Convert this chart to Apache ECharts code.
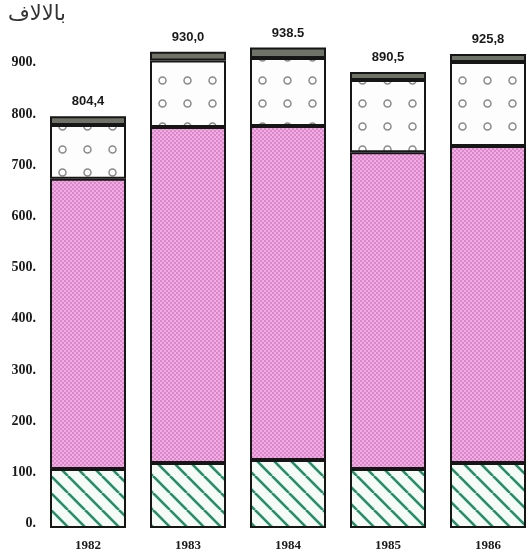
<!DOCTYPE html>
<html>
<head>
<meta charset="utf-8">
<script src="https://cdn.jsdelivr.net/npm/echarts@6/dist/echarts.min.js"></script>
<style>
  html, body { margin: 0; padding: 0; background: #fff; overflow: hidden; }
  #chart { width: 545px; height: 559px; }
</style>
</head>
<body>
<div id="chart"></div>
<script>
// values in thousands
var years = ['1982', '1983', '1984', '1985', '1986']
var hatched = [115, 127, 133, 115, 127]
var pink = [567, 656, 652, 619, 619]
var circles = [105, 130, 133, 141, 164]
var topCap = [17.4, 17.0, 20.5, 15.5, 15.8]
var totalLabels = ['804,4', '930,0', '938.5', '890,5', '925,8']
var yTicks = [0, 100, 200, 300, 400, 500, 600, 700, 800, 900]

function makePattern(w, h, draw) {
  var c = document.createElement('canvas')
  c.width = w
  c.height = h
  draw(c.getContext('2d'), w, h)
  return { image: c, repeat: 'repeat' }
}

var hatchFill = makePattern(17, 17, function(ctx, w, h) {
  ctx.fillStyle = '#f6fbf8'
  ctx.fillRect(0, 0, w, h)
  ctx.strokeStyle = '#248f68'
  ctx.lineWidth = 2.6
  ;[-w, 0, w].forEach(function(o) {
    ctx.beginPath()
    ctx.moveTo(o, 0)
    ctx.lineTo(o + w, h)
    ctx.stroke()
  })
})

var pinkFill = makePattern(4, 4, function(ctx, w, h) {
  ctx.fillStyle = '#eeaee0'
  ctx.fillRect(0, 0, w, h)
  ctx.fillStyle = '#de86cd'
  ctx.fillRect(0, 0, 2, 2)
  ctx.fillRect(2, 2, 2, 2)
})

var circleFill = makePattern(25, 23, function(ctx, w, h) {
  ctx.fillStyle = '#fdfdfd'
  ctx.fillRect(0, 0, w, h)
  ctx.strokeStyle = '#8a8a8a'
  ctx.lineWidth = 1.5
  ctx.beginPath()
  ctx.arc(w / 2, h / 2, 3.5, 0, Math.PI * 2)
  ctx.stroke()
})

var border = { borderColor: '#161616', borderWidth: 2 }

var chart = echarts.init(document.getElementById('chart'))
chart.setOption({
  animation: false,
  backgroundColor: '#fff',
  graphic: [{
    type: 'text',
    left: 8,
    top: 4,
    style: {
      text: 'بالالاف',
      font: '21px "DejaVu Sans"',
      fill: '#333'
    }
  }],
  grid: {
    left: 38,
    top: 16,
    width: 500,
    bottom: 31
  },
  xAxis: {
    type: 'category',
    data: years,
    axisLine: { show: false },
    axisTick: { show: false },
    axisLabel: {
      margin: 11,
      color: '#1a1a1a',
      fontFamily: 'Liberation Serif',
      fontWeight: 'bold',
      fontSize: 13
    }
  },
  yAxis: {
    type: 'value',
    min: 0,
    max: 1000,
    interval: 100,
    splitLine: { show: false },
    axisLine: { show: false },
    axisTick: { show: false },
    axisLabel: {
      margin: 2,
      verticalAlign: 'bottom',
      lineHeight: 9,
      color: '#1a1a1a',
      fontFamily: 'Liberation Serif',
      fontWeight: 'bold',
      fontSize: 14,
      formatter: function(v) {
        return yTicks.indexOf(v) >= 0 ? v + '.' : ''
      }
    }
  },
  series: [{
    type: 'bar',
    stack: 'total',
    barWidth: 76,
    data: hatched,
    itemStyle: Object.assign({ color: hatchFill }, border)
  }, {
    type: 'bar',
    stack: 'total',
    data: pink,
    itemStyle: Object.assign({ color: pinkFill }, border)
  }, {
    type: 'bar',
    stack: 'total',
    data: circles,
    itemStyle: Object.assign({ color: circleFill }, border)
  }, {
    type: 'bar',
    stack: 'total',
    data: topCap,
    itemStyle: Object.assign({ color: '#6f7266' }, border),
    label: {
      show: true,
      position: 'top',
      distance: 8,
      color: '#1a1a1a',
      fontFamily: 'Liberation Sans',
      fontWeight: 'bold',
      fontSize: 13,
      formatter: function(p) {
        return totalLabels[p.dataIndex]
      }
    }
  }]
})
</script>
</body>
</html>
